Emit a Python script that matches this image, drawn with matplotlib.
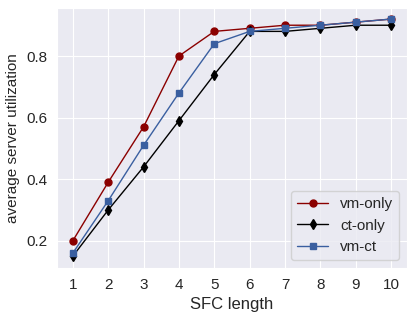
import matplotlib
matplotlib.use("Agg")
import matplotlib.pyplot as plt
import seaborn as sns

sfc_length = [1, 2, 3, 4, 5, 6, 7, 8, 9, 10]
vm_only = [0.20, 0.39, 0.57, 0.80, 0.88, 0.89, 0.90, 0.90, 0.91, 0.92]
ct_only = [0.15, 0.30, 0.44, 0.59, 0.74, 0.88, 0.88, 0.89, 0.90, 0.90]
vm_ct = [0.16, 0.33, 0.51, 0.68, 0.84, 0.88, 0.89, 0.90, 0.91, 0.92]

sns.set_style("darkgrid")
plt.rcParams['font.family'] = ['Liberation Sans', 'DejaVu Sans']

fig, ax = plt.subplots(figsize=(4.15, 3.19), dpi=100)
ax.plot(sfc_length, vm_only, color='#8b0000', marker='o', markersize=5, linewidth=1, label='vm-only')
ax.plot(sfc_length, ct_only, color='black', marker='d', markersize=5, linewidth=1, label='ct-only')
ax.plot(sfc_length, vm_ct, color='#3a5fa0', marker='s', markersize=5, linewidth=1, label='vm-ct')

ax.set_xticks(sfc_length)
ax.set_ylim(0.112, 0.956)
ax.set_yticks([0.2, 0.4, 0.6, 0.8])
ax.tick_params(labelsize=11)
ax.set_xlabel('SFC length', fontsize=12)
ax.set_ylabel('average server utilization', fontsize=11)
ax.legend(loc='lower right', fontsize=11)

fig.subplots_adjust(left=0.137, right=0.981, top=0.975, bottom=0.16)
fig.savefig('out.png', dpi=100)
